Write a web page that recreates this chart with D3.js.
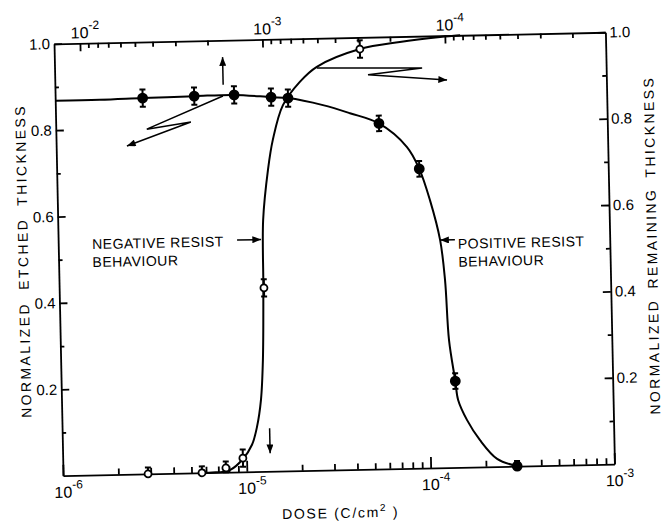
<!DOCTYPE html>
<html>
<head>
<meta charset="utf-8">
<script src="https://cdn.jsdelivr.net/npm/d3@7"></script>
<style>
  body { margin: 0; background: #fff; }
  svg { font-family: "Liberation Sans", Arial, sans-serif; }
  .axis path, .axis line { stroke: #000; stroke-width: 1.8; }
  .curve { fill: none; stroke: #000; stroke-width: 2; }
  .arrow { fill: none; stroke: #000; stroke-width: 1.5; }
  .bar { stroke: #000; stroke-width: 2; }
</style>
</head>
<body>
<div class="core_div"></div>
<script>

// tick labels
var bottomDecades = [-6, -5, -4, -3];      // DOSE (C/cm2), bottom
var topDecades = [-2, -3, -4];             // top scale, reversed
var thickLabels = [0.2, 0.4, 0.6, 0.8, 1.0];

// positive resist (filled) : top axis / left axis
var posDose  = [4.6e-3, 2.4e-3, 1.45e-3, 9.1e-4, 7.35e-4, 2.35e-4, 1.43e-4, 9.6e-5, 4.5e-5];
var posThick = [0.870, 0.872, 0.873, 0.866, 0.863, 0.800, 0.693, 0.200, 0.0];
var posErr   = [0.02, 0.02, 0.02, 0.02, 0.02, 0.018, 0.018, 0.018, 0.012];

// negative resist (open) : bottom axis / right axis
var negDose  = [2.9e-6, 5.7e-6, 7.7e-6, 9.55e-6, 1.3e-5, 4.6e-5];
var negThick = [0.0, 0.0, 0.01, 0.032, 0.425, 0.973];
var negErr   = [0.015, 0.015, 0.015, 0.02, 0.02, 0.02];

// hand drawn curves
var posCurveDose  = [1.38e-2, 7.9e-3, 4.6e-3, 2.4e-3, 1.45e-3, 9.1e-4, 7.35e-4, 4.74e-4, 3.38e-4, 2.35e-4,
                     1.66e-4, 1.43e-4, 1.26e-4, 1.12e-4, 1.064e-4, 1.028e-4, 9.6e-5, 9.31e-5, 8.36e-5,
                     7.14e-5, 5.78e-5, 4.5e-5];
var posCurveThick = [0.868, 0.868, 0.870, 0.872, 0.873, 0.866, 0.863, 0.845, 0.825, 0.800,
                     0.744, 0.693, 0.620, 0.527, 0.434, 0.295, 0.200, 0.156, 0.109,
                     0.062, 0.018, 0.0];
var negCurveDose  = [5.7e-6, 6.46e-6, 8.09e-6, 9.55e-6, 1.074e-5, 1.148e-5, 1.216e-5, 1.259e-5, 1.29e-5,
                     1.31e-5, 1.41e-5, 1.51e-5, 1.73e-5, 2.15e-5, 2.67e-5, 4.6e-5, 7.6e-5, 1.26e-4, 1.62e-4];
var negCurveThick = [0.0, 0.0, 0.005, 0.03, 0.0625, 0.103, 0.166, 0.258, 0.425,
                     0.582, 0.698, 0.767, 0.847, 0.900, 0.934, 0.973, 0.9875, 0.997, 1.0];

// annotation arrows [dose, thickness], head at the last point
var upArrow    = [[1.66e-3, 0.897], [1.66e-3, 0.961]];                                   // top / left
var leftZig    = [[1.67e-3, 0.871], [4.40e-3, 0.798], [2.52e-3, 0.8125], [5.68e-3, 0.760]]; // top / left
var posPointer = [[9.3e-5, 0.527], [1.12e-4, 0.527]];                                    // top / left
var downArrow  = [[1.345e-5, 0.100], [1.345e-5, 0.042]];                                 // bottom / right
var rightZig   = [[2.67e-5, 0.931], [9.98e-5, 0.926], [5.06e-5, 0.913], [1.36e-4, 0.897]]; // bottom / right
var negPointer = [[9.4e-6, 0.537], [1.27e-5, 0.537]];                                    // bottom / right

// the scanned figure sits a little crooked
var TILT = -1.2;

var margin = {top: 38, right: 53, bottom: 54, left: 58.5},
    width = 663 - margin.left - margin.right,
    height = 524 - margin.top - margin.bottom;

var svg = d3.select(".core_div").append("svg")
    .attr("width", 663)
    .attr("height", 524);

svg.append("rect").attr("width", 663).attr("height", 524).attr("fill", "#fff");

// Arrow head
svg.append("svg:defs").append("svg:marker")
    .attr("id", "head")
    .attr("viewBox", "0 -4 10 8")
    .attr("refX", 10)
    .attr("refY", 0)
    .attr("markerUnits", "userSpaceOnUse")
    .attr("markerWidth", 10)
    .attr("markerHeight", 7)
    .attr("orient", "auto")
  .append("svg:path")
    .attr("d", "M0,-4L10,0L0,4Z").style("fill", "#000");

var g = svg.append("g")
    .attr("transform", "rotate(" + TILT + " 333 255) translate(" + margin.left + "," + margin.top + ")");

var xBot = d3.scaleLog().domain([1e-6, 1e-3]).range([0, width]);
var xTop = d3.scaleLog().domain([Math.pow(10, -1.858), Math.pow(10, -4.88)]).range([0, width]);
var yL = d3.scaleLinear().domain([0, 1]).range([height, 0]);
var yR = d3.scaleLinear().domain([0, 1]).range([height, 0]);

function isDecade(d) {
  var l = Math.log10(d);
  return Math.abs(l - Math.round(l)) < 1e-6;
}
function labelled(d) {
  return thickLabels.some(function(t) { return Math.abs(t - d) < 1e-6; });
}
var tenths = d3.range(1, 11).map(function(i) { return i / 10; });

// ****************** axes ***************************

var gBot = g.append("g").attr("class", "axis")
    .attr("transform", "translate(0," + height + ")")
    .call(d3.axisBottom(xBot).tickSizeOuter(0).tickSizeInner(-6).tickFormat(""));
gBot.selectAll(".tick line").filter(isDecade).attr("y2", -11);

var gTop = g.append("g").attr("class", "axis")
    .call(d3.axisTop(xTop).tickSizeOuter(0).tickSizeInner(-5).tickFormat(""));
gTop.selectAll(".tick line").filter(isDecade).attr("y2", 8);

var gLeft = g.append("g").attr("class", "axis")
    .call(d3.axisLeft(yL).tickValues(tenths).tickSizeOuter(0).tickSizeInner(-4).tickPadding(4)
      .tickFormat(function(d) { return labelled(d) ? d3.format(".1f")(d) : ""; }))
    .attr("font-size", 15).attr("font-family", null);
gLeft.selectAll(".tick line").filter(labelled).attr("x2", 8);

var gRight = g.append("g").attr("class", "axis")
    .attr("transform", "translate(" + width + ",0)")
    .call(d3.axisRight(yR).tickValues(tenths).tickSizeOuter(0).tickSizeInner(-4).tickPadding(4)
      .tickFormat(function(d) { return labelled(d) ? d3.format(".1f")(d) : ""; }))
    .attr("font-size", 15).attr("font-family", null);
gRight.selectAll(".tick line").filter(labelled).attr("x2", -8);

// 10^n labels
function decadeLabels(scale, decades, y) {
  var t = g.append("g").selectAll("text")
      .data(decades)
    .enter().append("text")
      .attr("x", function(d) { return scale(Math.pow(10, d)) - 9; })
      .attr("y", y)
      .style("font-size", "16px");
  t.append("tspan").text("10");
  t.append("tspan").attr("dy", -9).style("font-size", "12px").text(function(d) { return "-" + (-d); });
}
decadeLabels(xBot, bottomDecades, height + 22);
decadeLabels(xTop, topDecades, -5);

// axis titles
g.append("text")
    .attr("transform", "translate(" + (23.2 - margin.left) + "," + (height / 2 + 0.5) + ") rotate(-90)")
    .attr("text-anchor", "middle").attr("dy", "0.35em")
    .style("font-size", "14px").style("letter-spacing", "2.4px").style("word-spacing", "6px")
    .text("NORMALIZED ETCHED THICKNESS");

g.append("text")
    .attr("transform", "translate(" + (width + 42) + "," + (height / 2 - 2) + ") rotate(-90)")
    .attr("text-anchor", "middle").attr("dy", "0.35em")
    .style("font-size", "14px").style("letter-spacing", "2.4px").style("word-spacing", "4px")
    .text("NORMALIZED REMAINING THICKNESS");

var xt = g.append("text")
    .attr("x", width / 2 + 1)
    .attr("y", height + 48)
    .attr("text-anchor", "middle")
    .style("font-size", "14px").style("letter-spacing", "1.7px");
xt.append("tspan").text("DOSE (C/cm");
xt.append("tspan").attr("dy", -6).style("font-size", "10px").text("2");
xt.append("tspan").attr("dy", 6).text(" )");

// ****************** curves ***************************

var posLine = d3.line()
    .x(function(i) { return xTop(posCurveDose[i]); })
    .y(function(i) { return yL(posCurveThick[i]); })
    .curve(d3.curveCatmullRom.alpha(0.5));
g.append("path").attr("class", "curve").attr("d", posLine(d3.range(posCurveDose.length)));

var negLine = d3.line()
    .x(function(i) { return xBot(negCurveDose[i]); })
    .y(function(i) { return yR(negCurveThick[i]); })
    .curve(d3.curveCatmullRom.alpha(0.5));
g.append("path").attr("class", "curve").attr("d", negLine(d3.range(negCurveDose.length)));

// ****************** points with error bars ***************************

function points(dose, thick, err, sx, sy, open) {
  var pt = g.append("g").selectAll("g")
      .data(d3.range(dose.length))
    .enter().append("g")
      .attr("transform", function(i) { return "translate(" + sx(dose[i]) + ",0)"; });
  pt.append("line").attr("class", "bar")
      .attr("y1", function(i) { return sy(Math.max(0, thick[i] - err[i])); })
      .attr("y2", function(i) { return sy(thick[i] + err[i]); });
  [1, -1].forEach(function(s) {
    pt.append("line").attr("class", "bar")
        .attr("x1", -3).attr("x2", 3)
        .attr("y1", function(i) { return sy(Math.max(0, thick[i] + s * err[i])); })
        .attr("y2", function(i) { return sy(Math.max(0, thick[i] + s * err[i])); });
  });
  pt.append("circle")
      .attr("cy", function(i) { return sy(thick[i]); })
      .attr("r", open ? 3.5 : 4.5)
      .attr("fill", open ? "#fff" : "#000")
      .attr("stroke", "#000")
      .attr("stroke-width", 1.8);
}
points(posDose, posThick, posErr, xTop, yL, false);
points(negDose, negThick, negErr, xBot, yR, true);

// ****************** annotations ***************************

var arrowLine = d3.line();
function arrow(pts, sx, sy) {
  g.append("path").attr("class", "arrow")
      .attr("d", arrowLine(pts.map(function(p) { return [sx(p[0]), sy(p[1])]; })))
      .attr("marker-end", "url(#head)");
}
arrow(upArrow, xTop, yL);
arrow(leftZig, xTop, yL);
arrow(posPointer, xTop, yL);
arrow(downArrow, xBot, yR);
arrow(rightZig, xBot, yR);
arrow(negPointer, xBot, yR);

function note(x, y, lines) {
  g.append("g").selectAll("text")
      .data(lines)
    .enter().append("text")
      .attr("x", x)
      .attr("y", function(d, k) { return y + k * 18; })
      .style("font-size", "14px").style("letter-spacing", "0.5px")
      .text(function(d) { return d; });
}
note(xBot(negPointer[0][0]) - 145, yR(negPointer[0][1]) + 6, ["NEGATIVE RESIST", "BEHAVIOUR"]);
note(xTop(posPointer[0][0]) + 3, yL(posPointer[0][1]) + 9, ["POSITIVE RESIST", "BEHAVIOUR"]);

</script>
</body>
</html>
